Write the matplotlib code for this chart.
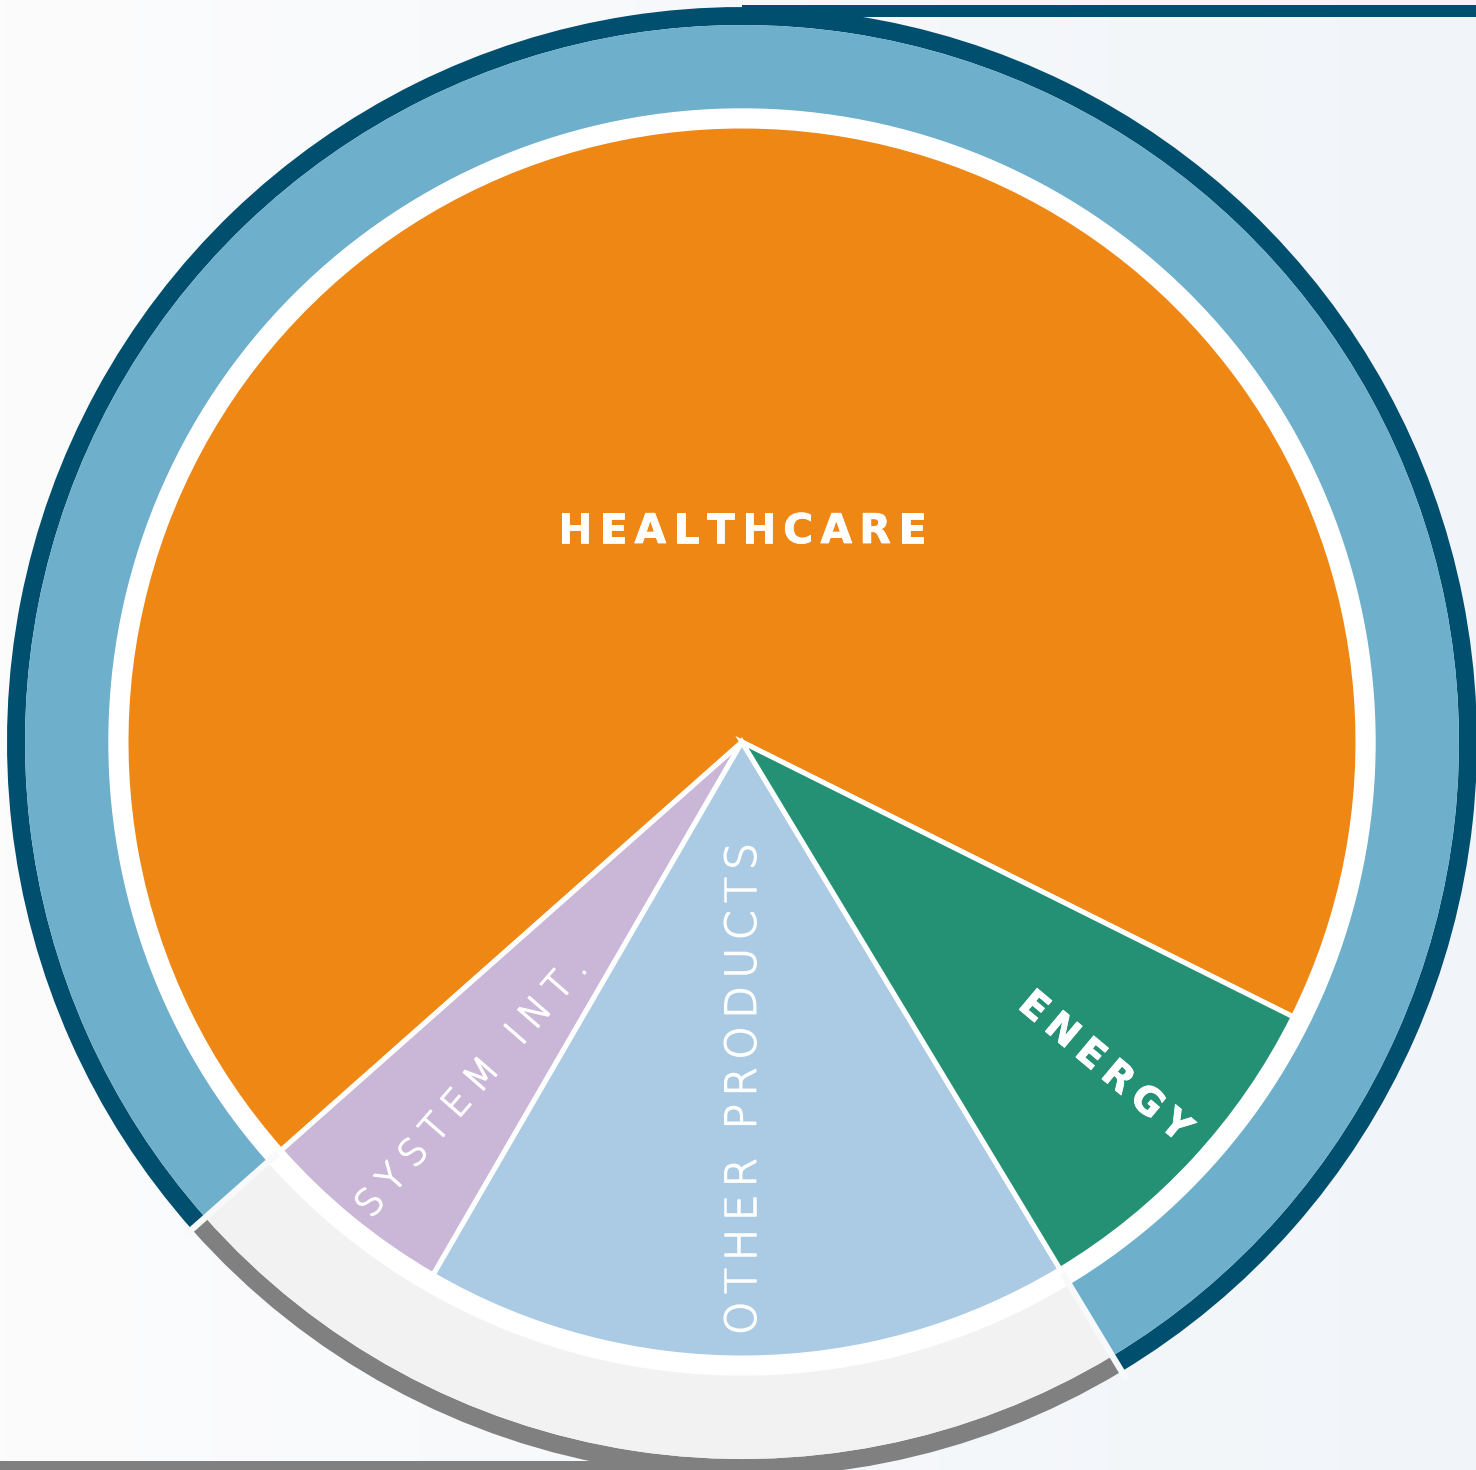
import numpy as np
import matplotlib
matplotlib.use("Agg")
import matplotlib.pyplot as plt
import matplotlib.patheffects as pe
from matplotlib.font_manager import FontProperties
from matplotlib.patches import Circle
from matplotlib.colors import LinearSegmentedColormap

# ---- data (shares in %) ----
segments = ["HEALTHCARE", "SYSTEM INT.", "OTHER PRODUCTS", "ENERGY"]
shares = [68.9, 5.1, 17.0, 9.0]
seg_colors = ["#EE8714", "#CAB7D8", "#AACBE3", "#249175"]

# outer ring groups: Energy + Healthcare / System int. + Other products
ring_shares = [shares[3] + shares[0], shares[1] + shares[2]]
ring_fill = ["#6EAFCB", "#F2F2F2"]
ring_edge = ["#004F6E", "#808080"]

# ---- layout (pixels) ----
W, H = 1476, 1470
cx, cy = 742, H - 742
r_pie, r_white, r_fill, r_out = 616, 633, 717, 735
start = 333.5

fig = plt.figure(figsize=(W / 100, H / 100), dpi=100)
ax = fig.add_axes([0, 0, 1, 1])

grad = np.linspace(0, 1, 256).reshape(1, -1)
cmap = LinearSegmentedColormap.from_list("bg", ["#fcfcfd", "#f1f5f9"])
ax.imshow(grad, extent=[0, W, 0, H], aspect="auto", cmap=cmap, zorder=0)

# decorative rules
ax.plot([cx, W], [H - 11, H - 11], color="#004F6E", lw=12 * 0.72, solid_capstyle="butt", zorder=1)
ax.plot([0, cx], [4, 4], color="#808080", lw=10 * 0.72, solid_capstyle="butt", zorder=1)

# outer ring
ring_start = start + 360 * (shares[0] + shares[1] + shares[2]) / 100
ax.pie(ring_shares, colors=ring_edge, startangle=ring_start, radius=r_out,
       center=(cx, cy), wedgeprops=dict(width=r_out - r_fill, linewidth=0), frame=True)
ax.pie(ring_shares, colors=ring_fill, startangle=ring_start, radius=r_fill,
       center=(cx, cy), wedgeprops=dict(width=r_fill - r_white, linewidth=0), frame=True)

# gaps between the ring parts
for a in [start + 360 * shares[0] / 100, ring_start]:
    t = np.radians(a)
    ax.plot([cx + 620 * np.cos(t), cx + 745 * np.cos(t)],
            [cy + 620 * np.sin(t), cy + 745 * np.sin(t)],
            color="#f7f9fa", lw=4.5, solid_capstyle="butt", zorder=5)

ax.add_patch(Circle((cx, cy), r_white, color="white", zorder=4))

wedges, _ = ax.pie(shares, colors=seg_colors, startangle=start, radius=r_pie,
                   center=(cx, cy), frame=True,
                   wedgeprops=dict(edgecolor="white", linewidth=3.6))
for w in wedges:
    w.set_zorder(6)

ax.set_xlim(0, W)
ax.set_ylim(0, H)
ax.set_aspect("auto")
ax.axis("off")

renderer = fig.canvas.get_renderer()


def spaced(text, r, ang, rot, cap, length, weight, family="DejaVu Sans", stroke=0):
    # fit font size to the cap height in px
    probe = FontProperties(family=family, weight=weight, size=100)
    hh = renderer.get_text_width_height_descent("H", probe, ismath=False)[1]
    fp = FontProperties(family=family, weight=weight, size=100 * cap / hh)
    ws = []
    for c in text:
        if c == " ":
            w = (renderer.get_text_width_height_descent("n n", fp, ismath=False)[0]
                 - renderer.get_text_width_height_descent("nn", fp, ismath=False)[0])
        else:
            w = renderer.get_text_width_height_descent(c, fp, ismath=False)[0]
        ws.append(w)
    track = (length - sum(ws)) / (len(text) - 1)
    t = np.radians(ang)
    mx, my = cx + r * np.cos(t), cy + r * np.sin(t)
    d = np.array([np.cos(np.radians(rot)), np.sin(np.radians(rot))])
    n = np.array([-d[1], d[0]])
    effects = [pe.withStroke(linewidth=stroke, foreground="white")] if stroke else None
    pos = -length / 2
    for c, w in zip(text, ws):
        p = np.array([mx, my]) + d * (pos + w / 2) - n * cap / 2
        ax.text(p[0], p[1], c, rotation=rot, rotation_mode="anchor",
                ha="center", va="baseline", fontproperties=fp, color="white",
                path_effects=effects, zorder=10)
        pos += w + track


spaced(segments[0], 214, 90, 0, 30, 368, "bold", stroke=0.6)
spaced(segments[1], 438, 231.6, 49, 27, 332, "light", stroke=1.1)
spaced(segments[2], 347, 269.7, 90, 31, 492, "light", stroke=1.1)
spaced(segments[3], 487, 318.5, -40, 28, 212, "bold", stroke=0.6)

fig.savefig("out.png", dpi=100)
